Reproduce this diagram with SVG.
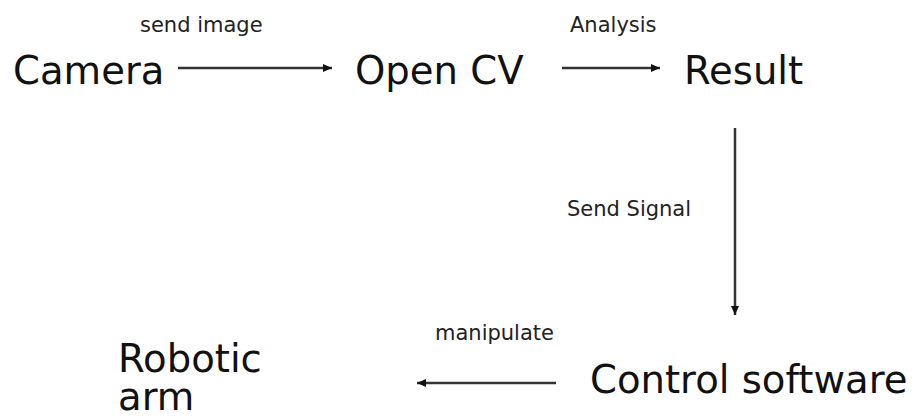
<svg xmlns="http://www.w3.org/2000/svg" width="919" height="419" viewBox="0 0 919 419">
<style>
.big{font-family:"DejaVu Sans",Verdana,sans-serif;font-size:38.6px;fill:#111}
.small{font-family:"DejaVu Sans",Verdana,sans-serif;font-size:21px;fill:#222}
.edge{stroke:#333;stroke-width:2.5;fill:none;marker-end:url(#ah)}
</style>
<defs>
<marker id="ah" markerUnits="userSpaceOnUse" markerWidth="10" markerHeight="10" refX="9" refY="5" orient="auto">
<path d="M0,1 L9,5 L0,9 Z" fill="#111"/>
</marker>
</defs>
<rect width="919" height="419" fill="#fff"/>
<g id="connectors">
<line class="edge" x1="178" y1="68" x2="332" y2="68"/>
<line class="edge" x1="562" y1="68" x2="660" y2="68"/>
<line class="edge" x1="735" y1="128" x2="735" y2="315"/>
<line class="edge" x1="556" y1="383" x2="417" y2="383"/>
<text class="small" x="140" y="32">send image</text>
<text class="small" x="570" y="32">Analysis</text>
<text class="small" x="567" y="216">Send Signal</text>
<text class="small" x="435" y="340">manipulate</text>
</g>
<g id="camera"><text class="big" x="13" y="84">Camera</text></g>
<g id="opencv"><text class="big" x="355" y="84">Open CV</text></g>
<g id="result"><text class="big" x="684" y="84">Result</text></g>
<g id="control"><text class="big" x="590" y="393">Control software</text></g>
<g id="robotic"><text class="big" x="118" y="372">Robotic</text><text class="big" x="118" y="410">arm</text></g>
</svg>
